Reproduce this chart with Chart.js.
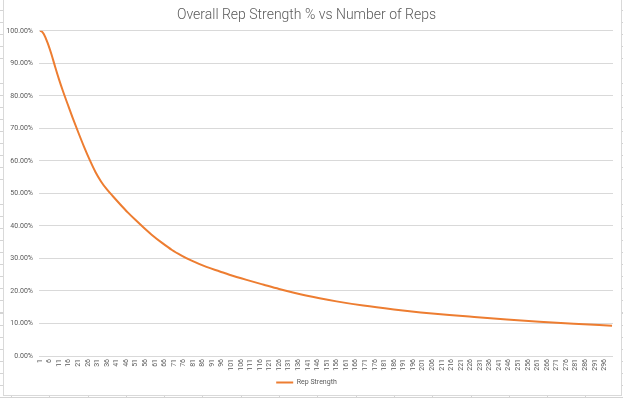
<!DOCTYPE html>
<html>
<head>
<meta charset="utf-8">
<script src="https://cdn.jsdelivr.net/npm/chart.js@4/dist/chart.umd.min.js"></script>
<style>
  html, body { margin: 0; padding: 0; }
  body {
    width: 623px; height: 398px; position: relative; overflow: hidden;
    background:
      repeating-linear-gradient(to bottom, transparent 0, transparent 10px, #d4d4d4 10px, #d4d4d4 11px, transparent 11px, transparent 12.1px),
      #fff;
  }
  #box {
    position: absolute; left: 3px; top: -1px; width: 617px; height: 395px;
    background: #fff; border: 1px solid #d9d9d9;
  }
  #bottomstrip {
    position: absolute; left: 0; top: 396px; width: 623px; height: 2px;
    background: repeating-linear-gradient(to right, transparent 0, transparent 11px, #d4d4d4 11px, #d4d4d4 12px, transparent 12px, transparent 38.3px);
  }
  #wrap { position: absolute; left: 0; top: 0; width: 623px; height: 398px; }
</style>
</head>
<body>
<div id="box"></div>
<div id="bottomstrip"></div>
<div id="wrap"><canvas id="chart"></canvas></div>
<script>
const reps = [1, 2, 3, 5, 7, 9, 11, 13, 16, 18, 21, 24, 27, 30, 33, 36, 39, 43, 47, 51, 55, 60, 65, 70, 75, 80, 88, 95, 100, 109, 118, 126, 140, 156, 170, 186, 200, 215, 228, 245, 262, 280, 300];
const strength = [100, 99.8, 99.0, 96.3, 92.8, 88.8, 85.0, 81.5, 76.6, 73.4, 68.8, 64.4, 60.3, 56.6, 53.6, 51.2, 49.2, 46.6, 44.1, 41.8, 39.6, 37.0, 34.7, 32.6, 30.9, 29.4, 27.4, 26.0, 25.0, 23.4, 21.9, 20.6, 18.6, 16.8, 15.5, 14.3, 13.4, 12.6, 12.0, 11.25, 10.55, 9.9, 9.3];
// x tick labels: 1, 6, 11 ... 296
const xTicks = [];
for (let r = 1; r <= 296; r += 5) xTicks.push(r);
const yTicks = [0, 10, 20, 30, 40, 50, 60, 70, 80, 90, 100];

const grey = '#595959';
const points = reps.map((r, i) => ({ x: r, y: strength[i] }));

new Chart(document.getElementById('chart').getContext('2d'), {
  type: 'line',
  data: {
    datasets: [{
      label: 'Rep Strength',
      data: points,
      borderColor: '#ED7D31',
      backgroundColor: '#ED7D31',
      borderWidth: 2,
      pointRadius: 0,
      cubicInterpolationMode: 'monotone'
    }]
  },
  options: {
    responsive: true,
    maintainAspectRatio: false,
    animation: false,
    layout: { padding: { left: 0, right: 10, top: 0, bottom: 2 } },
    plugins: {
      title: {
        display: true,
        text: 'Overall Rep Strength % vs Number of Reps',
        color: grey,
        font: { family: 'Roboto', size: 14, weight: 300 },
        padding: { top: 7, bottom: 7 }
      },
      legend: {
        position: 'bottom',
        labels: {
          color: grey,
          font: { family: 'Roboto', size: 7 },
          usePointStyle: true,
          pointStyle: 'line',
          pointStyleWidth: 17,
          boxHeight: 7,
          padding: 4
        }
      },
      tooltip: { enabled: false }
    },
    scales: {
      x: {
        type: 'linear',
        min: 0.5,
        max: 300.5,
        afterBuildTicks: axis => { axis.ticks = xTicks.map(v => ({ value: v })); },
        afterFit: s => { s.height = 19; },
        grid: { display: false, drawTicks: false },
        border: { display: false },
        ticks: {
          autoSkip: false,
          minRotation: 90,
          maxRotation: 90,
          padding: 3,
          color: grey,
          font: { family: 'Roboto', size: 7 },
          callback: v => String(v)
        }
      },
      y: {
        min: 0,
        max: 100,
        afterBuildTicks: axis => { axis.ticks = yTicks.map(v => ({ value: v })); },
        afterFit: s => { s.width = 39; },
        grid: { color: '#d9d9d9', lineWidth: 1, drawTicks: false },
        border: { display: false },
        ticks: {
          padding: 6,
          color: grey,
          font: { family: 'Roboto', size: 7 },
          callback: v => v.toFixed(2) + '%'
        }
      }
    }
  }
});
</script>
</body>
</html>
